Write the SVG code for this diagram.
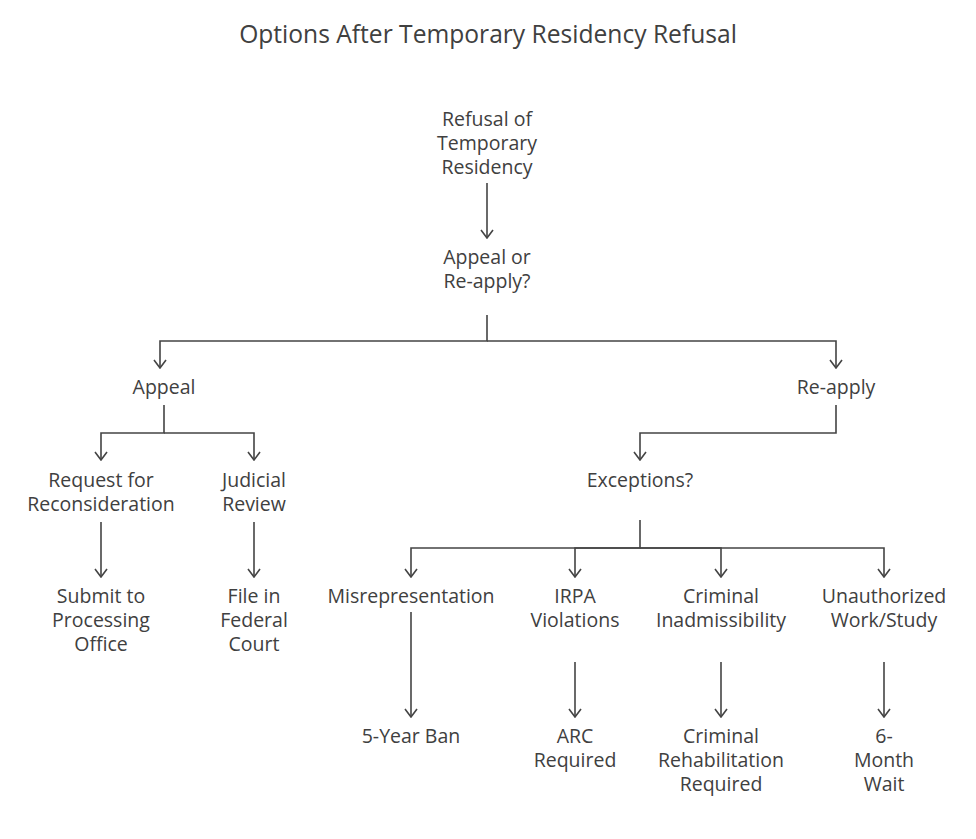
<svg xmlns="http://www.w3.org/2000/svg" width="976" height="839" viewBox="0 0 976 839">
<defs>
<marker id="arr" viewBox="0 0 10 14" refX="9" refY="7" markerWidth="10" markerHeight="14" markerUnits="userSpaceOnUse" orient="auto">
<path d="M1,1 L9,7 L1,13" fill="none" stroke="#444" stroke-width="1.6"/>
</marker>
<style>
text{font-family:"Open Sans","Noto Sans","Liberation Sans",sans-serif;fill:#404040;text-anchor:middle;}
.t{font-size:24.6px;}
.n{font-size:19.5px;}
.c{fill:none;stroke:#444;stroke-width:1.6;}
</style>
</defs>
<rect width="976" height="839" fill="#fff"/>
<text class="t" x="488" y="43">Options After Temporary Residency Refusal</text>
<g id="connectors">
<path class="c" d="M487,183 V238" marker-end="url(#arr)"/>
<path class="c" d="M487,315 V341 H160 V368" marker-end="url(#arr)"/>
<path class="c" d="M487,341 H836 V368" marker-end="url(#arr)"/>
<path class="c" d="M164,405 V433 H101 V460" marker-end="url(#arr)"/>
<path class="c" d="M164,433 H254 V460" marker-end="url(#arr)"/>
<path class="c" d="M836,405 V433 H640 V460" marker-end="url(#arr)"/>
<path class="c" d="M101,522 V577" marker-end="url(#arr)"/>
<path class="c" d="M254,522 V577" marker-end="url(#arr)"/>
<path class="c" d="M640,520 V548 H411 V577" marker-end="url(#arr)"/>
<path class="c" d="M640,548 H575 V577" marker-end="url(#arr)"/>
<path class="c" d="M640,548 H721 V577" marker-end="url(#arr)"/>
<path class="c" d="M640,548 H884 V577" marker-end="url(#arr)"/>
<path class="c" d="M411,612 V717" marker-end="url(#arr)"/>
<path class="c" d="M575,662 V717" marker-end="url(#arr)"/>
<path class="c" d="M721,662 V717" marker-end="url(#arr)"/>
<path class="c" d="M884,662 V717" marker-end="url(#arr)"/>
</g>
<g id="refusal"><text class="n" x="487" y="126">Refusal of</text><text class="n" x="487" y="150">Temporary</text><text class="n" x="487" y="174">Residency</text></g>
<g id="decision"><text class="n" x="487" y="264">Appeal or</text><text class="n" x="487" y="288">Re-apply?</text></g>
<g id="appeal"><text class="n" x="164" y="394">Appeal</text></g>
<g id="reapply"><text class="n" x="836" y="394">Re-apply</text></g>
<g id="reconsideration"><text class="n" x="101" y="487">Request for</text><text class="n" x="101" y="511">Reconsideration</text></g>
<g id="judicial"><text class="n" x="254" y="487">Judicial</text><text class="n" x="254" y="511">Review</text></g>
<g id="exceptions"><text class="n" x="640" y="487">Exceptions?</text></g>
<g id="submit"><text class="n" x="101" y="603">Submit to</text><text class="n" x="101" y="627">Processing</text><text class="n" x="101" y="651">Office</text></g>
<g id="federal"><text class="n" x="254" y="603">File in</text><text class="n" x="254" y="627">Federal</text><text class="n" x="254" y="651">Court</text></g>
<g id="misrep"><text class="n" x="411" y="603">Misrepresentation</text></g>
<g id="irpa"><text class="n" x="575" y="603">IRPA</text><text class="n" x="575" y="627">Violations</text></g>
<g id="criminal"><text class="n" x="721" y="603">Criminal</text><text class="n" x="721" y="627">Inadmissibility</text></g>
<g id="unauth"><text class="n" x="884" y="603">Unauthorized</text><text class="n" x="884" y="627">Work/Study</text></g>
<g id="ban"><text class="n" x="411" y="743">5-Year Ban</text></g>
<g id="arc"><text class="n" x="575" y="743">ARC</text><text class="n" x="575" y="767">Required</text></g>
<g id="rehab"><text class="n" x="721" y="743">Criminal</text><text class="n" x="721" y="767">Rehabilitation</text><text class="n" x="721" y="791">Required</text></g>
<g id="wait"><text class="n" x="884" y="743">6-</text><text class="n" x="884" y="767">Month</text><text class="n" x="884" y="791">Wait</text></g>
</svg>
